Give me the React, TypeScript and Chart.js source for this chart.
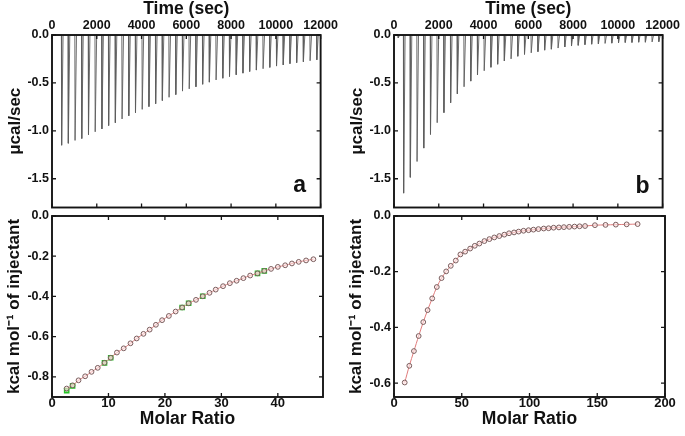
import React, { useEffect, useRef } from 'react';
import { Chart, registerables } from 'chart.js';

Chart.register(...registerables);

const FONT = "'Liberation Sans', Arial, Helvetica, sans-serif";

// ---------- Panel a : raw heat (time, sec / peak, µcal/sec) ----------
const A_TIMES = [420, 720, 1020, 1320, 1620, 1920, 2220, 2520, 2820, 3120, 3420, 3720, 4020, 4320, 4620, 4920, 5220, 5520, 5820, 6120, 6420, 6720, 7020, 7320, 7620, 7920, 8220, 8520, 8820, 9120, 9420, 9720, 10020, 10320, 10620, 10920, 11220, 11520, 11820];
const A_PEAKS = [-1.15, -1.13, -1.10, -1.08, -1.04, -1.01, -0.98, -0.945, -0.915, -0.876, -0.843, -0.81, -0.776, -0.747, -0.717, -0.684, -0.65, -0.622, -0.585, -0.562, -0.54, -0.514, -0.492, -0.469, -0.451, -0.433, -0.415, -0.398, -0.381, -0.366, -0.352, -0.338, -0.324, -0.312, -0.299, -0.289, -0.279, -0.269, -0.259];

// ---------- Panel a : integrated heats ----------
const A_MOLAR = [2.6, 3.65, 4.7, 5.87, 7.0, 8.1, 9.3, 10.4, 11.5, 12.7, 13.9, 15.0, 16.2, 17.3, 18.4, 19.5, 20.7, 21.9, 23.05, 24.2, 25.5, 26.7, 27.9, 29.0, 30.3, 31.5, 32.7, 33.9, 35.1, 36.4, 37.6, 38.8, 40.0, 41.3, 42.5, 43.7, 45.0, 46.3];
const A_HEAT = [-0.858, -0.842, -0.817, -0.797, -0.775, -0.755, -0.730, -0.705, -0.679, -0.658, -0.633, -0.609, -0.586, -0.565, -0.541, -0.518, -0.497, -0.475, -0.455, -0.434, -0.417, -0.399, -0.382, -0.366, -0.349, -0.334, -0.322, -0.309, -0.296, -0.285, -0.273, -0.263, -0.253, -0.245, -0.236, -0.228, -0.221, -0.215];
const A_GREEN_MOLAR = [2.6, 3.65, 9.3, 10.4, 23.05, 24.2, 26.7, 36.4, 37.6];
const A_GREEN_HEAT = [-0.868, -0.845, -0.730, -0.705, -0.455, -0.434, -0.399, -0.285, -0.273];

// ---------- Panel b : raw heat ----------
const B_TIMES = [180, 420, 720, 1020, 1320, 1620, 1920, 2220, 2520, 2820, 3120, 3420, 3720, 4020, 4320, 4620, 4920, 5220, 5520, 5820, 6120, 6420, 6720, 7020, 7320, 7620, 7920, 8220, 8520, 8820, 9120, 9420, 9720, 10020, 10320, 10620, 10920, 11220, 11520, 11820];
const B_PEAKS = [-0.03, -1.65, -1.485, -1.32, -1.18, -1.037, -0.915, -0.81, -0.707, -0.614, -0.54, -0.481, -0.416, -0.373, -0.337, -0.305, -0.27, -0.249, -0.222, -0.202, -0.186, -0.174, -0.158, -0.148, -0.136, -0.125, -0.115, -0.108, -0.101, -0.096, -0.092, -0.088, -0.085, -0.082, -0.078, -0.078, -0.075, -0.075, -0.072, -0.07];

// ---------- Panel b : integrated heats ----------
const B_MOLAR = [7.9, 11.3, 14.7, 18.2, 21.6, 24.8, 28.2, 31.6, 35.1, 38.5, 41.9, 45.6, 49.0, 52.5, 56.2, 59.6, 63.0, 66.7, 70.4, 74.0, 77.7, 81.4, 84.9, 88.6, 92.0, 95.6, 99.3, 102.9, 106.6, 110.5, 114.1, 117.8, 121.7, 125.4, 129.3, 133.2, 137.0, 141.0, 148.3, 156.1, 163.7, 171.7, 179.8];
const B_HEAT = [-0.598, -0.538, -0.485, -0.431, -0.381, -0.338, -0.296, -0.255, -0.223, -0.199, -0.179, -0.160, -0.138, -0.128, -0.117, -0.107, -0.099, -0.090, -0.083, -0.077, -0.072, -0.067, -0.062, -0.059, -0.056, -0.053, -0.051, -0.049, -0.047, -0.045, -0.044, -0.042, -0.041, -0.040, -0.039, -0.038, -0.037, -0.036, -0.033, -0.032, -0.031, -0.030, -0.029];

// ---------- Tick labels ----------
const TIME_TICKS = [0, 2000, 4000, 6000, 8000, 10000, 12000];
const RAW_TICKS = [0, -0.5, -1.0, -1.5];
const A_MOLAR_TICKS = [0, 10, 20, 30, 40];
const A_HEAT_TICKS = [0, -0.2, -0.4, -0.6, -0.8];
const B_MOLAR_TICKS = [0, 50, 100, 150, 200];
const B_HEAT_TICKS = [0, -0.2, -0.4, -0.6];

const framePlugin = {
  id: 'frame',
  afterDraw(chart: any, _args: any, opts: any) {
    const { ctx, chartArea, scales } = chart;
    const { left, top, right, bottom } = chartArea;
    ctx.save();
    ctx.strokeStyle = '#151515';
    ctx.lineWidth = 1.9;
    ctx.strokeRect(left, top, right - left, bottom - top);
    ctx.lineWidth = 1.3;
    const L = 4;
    ctx.beginPath();
    scales.x.ticks.forEach((t: any) => {
      const p = scales.x.getPixelForValue(t.value);
      ctx.moveTo(p, top);
      ctx.lineTo(p, top + L);
      ctx.moveTo(p, bottom);
      ctx.lineTo(p, bottom - L);
    });
    scales.y.ticks.forEach((t: any) => {
      const p = scales.y.getPixelForValue(t.value);
      ctx.moveTo(left, p);
      ctx.lineTo(left + L, p);
      ctx.moveTo(right, p);
      ctx.lineTo(right - L, p);
    });
    ctx.stroke();
    if (opts && opts.letter) {
      ctx.font = `bold 23px ${FONT}`;
      ctx.fillStyle = '#111';
      ctx.textAlign = 'center';
      ctx.textBaseline = 'alphabetic';
      ctx.fillText(opts.letter, right + opts.dx, bottom + opts.dy);
    }
    ctx.restore();
  },
};

function spikes(times: number[], peaks: number[]) {
  const pts: { x: number; y: number }[] = [{ x: 0, y: 0 }];
  times.forEach((t, i) => {
    pts.push({ x: t, y: 0 }, { x: t + 10, y: peaks[i] }, { x: t + 75, y: 0 });
  });
  pts.push({ x: 12000, y: 0 });
  return pts;
}

const tickFont = (size: number) => ({ family: FONT, size, weight: 'bold' as const });

function fixedTicks(values: number[]) {
  return (s: any) => {
    s.ticks = values.map((v) => ({ value: v }));
  };
}

function TopChart(props: { times: number[]; peaks: number[]; letter: string; dx: number; dy: number }) {
  const ref = useRef<HTMLCanvasElement>(null);
  useEffect(() => {
    const chart = new Chart(ref.current as HTMLCanvasElement, {
      type: 'line',
      data: {
        datasets: [
          {
            data: spikes(props.times, props.peaks),
            borderColor: '#5e5e5e',
            borderWidth: 0.9,
            pointRadius: 0,
            tension: 0,
          },
        ],
      },
      options: {
        animation: false,
        responsive: false,
        maintainAspectRatio: false,
        layout: { padding: { top: 0, right: 17, bottom: 2, left: 0 } },
        plugins: {
          legend: { display: false },
          tooltip: { enabled: false },
          frame: { letter: props.letter, dx: props.dx, dy: props.dy },
        } as any,
        scales: {
          x: {
            type: 'linear',
            position: 'top',
            min: 0,
            max: 12000,
            afterBuildTicks: fixedTicks(TIME_TICKS),
            afterFit: (s: any) => {
              s.height = 35;
            },
            grid: { display: false, drawTicks: false },
            border: { display: false },
            ticks: {
              font: tickFont(12.5),
              color: '#111',
              padding: 2,
              maxRotation: 0,
              autoSkip: false,
              callback: (v: any) => String(v),
            },
            title: {
              display: true,
              text: 'Time (sec)',
              color: '#111',
              font: { family: FONT, size: 17.5, weight: 'bold' },
              padding: { top: -1, bottom: 0 },
            },
          },
          y: {
            type: 'linear',
            min: -1.8,
            max: 0,
            afterBuildTicks: fixedTicks(RAW_TICKS),
            afterFit: (s: any) => {
              s.width = 52;
            },
            grid: { display: false, drawTicks: false },
            border: { display: false },
            ticks: {
              font: tickFont(12.5),
              color: '#111',
              padding: 3,
              autoSkip: false,
              callback: (v: any) => Number(v).toFixed(1),
            },
            title: {
              display: true,
              text: 'μcal/sec',
              color: '#111',
              font: { family: FONT, size: 17, weight: 'bold' },
              padding: { top: 5, bottom: 0 },
            },
          },
        },
      },
      plugins: [framePlugin],
    } as any);
    return () => chart.destroy();
  }, []);
  return <canvas ref={ref} width={340} height={218} style={{ width: 340, height: 218, display: 'block' }} />;
}

function BottomChart(props: {
  molar: number[];
  heat: number[];
  greenMolar: number[];
  greenHeat: number[];
  xMax: number;
  yMin: number;
  xTicks: number[];
  yTicks: number[];
}) {
  const ref = useRef<HTMLCanvasElement>(null);
  useEffect(() => {
    const main = props.molar.map((x, i) => ({ x, y: props.heat[i] }));
    const green = props.greenMolar.map((x, i) => ({ x, y: props.greenHeat[i] }));
    const chart = new Chart(ref.current as HTMLCanvasElement, {
      type: 'line',
      data: {
        datasets: [
          {
            data: main,
            showLine: true,
            borderColor: '#e07b7b',
            borderWidth: 1,
            tension: 0.3,
            pointRadius: 2.4,
            pointBorderWidth: 1,
            pointBorderColor: '#7a5e5e',
            pointBackgroundColor: 'rgba(255,230,230,0.6)',
          },
          {
            data: green,
            showLine: false,
            pointStyle: 'rect',
            pointRadius: 3,
            pointBorderWidth: 1.4,
            pointBorderColor: '#27c427',
            pointBackgroundColor: 'rgba(80,220,80,0.6)',
          },
        ],
      },
      options: {
        animation: false,
        responsive: false,
        maintainAspectRatio: false,
        layout: { padding: { top: 16, right: 17, bottom: 0, left: 0 } },
        plugins: {
          legend: { display: false },
          tooltip: { enabled: false },
          frame: {},
        } as any,
        scales: {
          x: {
            type: 'linear',
            position: 'bottom',
            min: 0,
            max: props.xMax,
            afterBuildTicks: fixedTicks(props.xTicks),
            afterFit: (s: any) => {
              s.height = 39;
            },
            grid: { display: false, drawTicks: false },
            border: { display: false },
            ticks: {
              font: tickFont(13),
              color: '#111',
              padding: -1,
              maxRotation: 0,
              autoSkip: false,
              callback: (v: any) => String(v),
            },
            title: {
              display: true,
              text: 'Molar Ratio',
              color: '#111',
              font: { family: FONT, size: 17.5, weight: 'bold' },
              padding: { top: 0, bottom: 6 },
            },
          },
          y: {
            type: 'linear',
            min: props.yMin,
            max: 0,
            afterBuildTicks: fixedTicks(props.yTicks),
            afterFit: (s: any) => {
              s.width = 52;
            },
            grid: { display: false, drawTicks: false },
            border: { display: false },
            ticks: {
              font: tickFont(12.5),
              color: '#111',
              padding: 3,
              autoSkip: false,
              callback: (v: any) => Number(v).toFixed(1),
            },
            title: {
              display: true,
              text: 'kcal mol⁻¹ of injectant',
              color: '#111',
              font: { family: FONT, size: 17, weight: 'bold' },
              padding: { top: 4, bottom: 0 },
            },
          },
        },
      },
      plugins: [framePlugin],
    } as any);
    return () => chart.destroy();
  }, []);
  return <canvas ref={ref} width={340} height={236} style={{ width: 340, height: 236, display: 'block' }} />;
}

export default function App() {
  return (
    <div style={{ position: 'absolute', left: 0, top: 0, width: 685, height: 436, background: '#fff', overflow: 'hidden' }}>
      <div style={{ position: 'absolute', left: 0, top: 0 }}>
        <TopChart times={A_TIMES} peaks={A_PEAKS} letter="a" dx={-21} dy={-16} />
      </div>
      <div style={{ position: 'absolute', left: 0, top: 200 }}>
        <BottomChart
          molar={A_MOLAR}
          heat={A_HEAT}
          greenMolar={A_GREEN_MOLAR}
          greenHeat={A_GREEN_HEAT}
          xMax={48}
          yMin={-0.9}
          xTicks={A_MOLAR_TICKS}
          yTicks={A_HEAT_TICKS}
        />
      </div>
      <div style={{ position: 'absolute', left: 342, top: 0 }}>
        <TopChart times={B_TIMES} peaks={B_PEAKS} letter="b" dx={-20} dy={-15} />
      </div>
      <div style={{ position: 'absolute', left: 342, top: 200 }}>
        <BottomChart
          molar={B_MOLAR}
          heat={B_HEAT}
          greenMolar={[]}
          greenHeat={[]}
          xMax={200}
          yMin={-0.65}
          xTicks={B_MOLAR_TICKS}
          yTicks={B_HEAT_TICKS}
        />
      </div>
    </div>
  );
}
